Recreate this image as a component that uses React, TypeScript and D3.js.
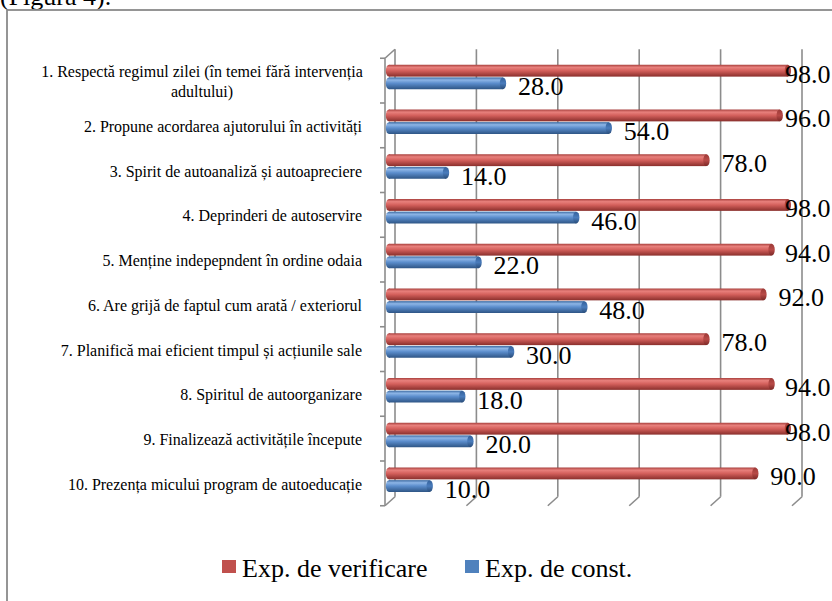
import React from "react";
import * as d3 from "d3";

const categories = [
  "1. Respectă regimul zilei (în temei fără intervenția\nadultului)",
  "2. Propune acordarea ajutorului în activități",
  "3. Spirit de autoanaliză și autoapreciere",
  "4. Deprinderi de autoservire",
  "5. Menține indepepndent în ordine odaia",
  "6. Are grijă de faptul cum arată / exteriorul",
  "7. Planifică mai eficient timpul și acțiunile sale",
  "8. Spiritul de autoorganizare",
  "9. Finalizează activitățile începute",
  "10. Prezența micului program de autoeducație",
];
const verificare = [98, 96, 78, 98, 94, 92, 78, 94, 98, 90];
const constatare = [28, 54, 14, 46, 22, 48, 30, 18, 20, 10];
const seriesNames = ["Exp. de verificare", "Exp. de const."];
const xTicks = [0, 20, 40, 60, 80, 100];

const W = 832;
const H = 601;
const FONT = "Liberation Serif, Tinos, DejaVu Serif, serif";

export default function App() {
  const dx = 10;
  const dy = -9;
  const frontLeft = 385;
  const yBand = d3.scaleBand<string>().domain(categories).range([58.25, 505.75]).padding(0);
  const xBack = d3.scaleLinear().domain([0, 100]).range([frontLeft + dx, 802]);
  const xBar = d3.scaleLinear().domain([0, 100]).range([389, 796]);
  const ySeries = d3.scaleBand<string>().domain(seriesNames).range([6.5, 31]).paddingInner(0.06);
  const top = yBand.range()[0];
  const bottom = yBand.range()[1];
  const colors = ["#c0504d", "#4f81bd"];
  const data = [verificare, constatare];
  const txt = { fontFamily: FONT, fill: "#000" } as React.CSSProperties;

  return (
    <svg width={W} height={H} style={{ position: "absolute", left: 0, top: 0, background: "#fff" }}>
      <defs>
        <linearGradient id="g0" x1="0" y1="0" x2="0" y2="1">
          <stop offset="0%" stopColor="#a8403d" />
          <stop offset="22%" stopColor="#e8807c" />
          <stop offset="50%" stopColor="#d4605c" />
          <stop offset="100%" stopColor="#8a2f2c" />
        </linearGradient>
        <linearGradient id="g1" x1="0" y1="0" x2="0" y2="1">
          <stop offset="0%" stopColor="#3a68a0" />
          <stop offset="22%" stopColor="#8db5e6" />
          <stop offset="50%" stopColor="#5b8dcc" />
          <stop offset="100%" stopColor="#2e5585" />
        </linearGradient>
        <linearGradient id="c0" x1="0" y1="0" x2="0" y2="1">
          <stop offset="0%" stopColor="#9c3a37" />
          <stop offset="50%" stopColor="#b84a47" />
          <stop offset="100%" stopColor="#7a2826" />
        </linearGradient>
        <linearGradient id="c1" x1="0" y1="0" x2="0" y2="1">
          <stop offset="0%" stopColor="#33609a" />
          <stop offset="50%" stopColor="#4a7cbc" />
          <stop offset="100%" stopColor="#294c78" />
        </linearGradient>
      </defs>

      {/* caption fragment above the frame */}
      <text x={0} y={5} style={{ ...txt, fontSize: 26 }}>(Figura 4).</text>

      {/* chart frame */}
      <rect x={7} y={10} width={900} height={700} fill="#fff" stroke="#8a8a8a" strokeWidth={1.8} />

      {/* back wall gridlines and floor diagonals */}
      {xTicks.map((t) => (
        <g key={t} stroke="#8c8c8c" strokeWidth={1.6} fill="none">
          <line x1={xBack(t)} x2={xBack(t)} y1={top + dy} y2={bottom + dy} />
          <line x1={xBack(t)} y1={bottom + dy} x2={xBack(t) - dx} y2={bottom} />
        </g>
      ))}

      {/* left wall front edge, top diagonal and ticks */}
      <g stroke="#8c8c8c" strokeWidth={1.6} fill="none">
        <line x1={frontLeft} x2={frontLeft} y1={top} y2={bottom} />
        <line x1={frontLeft} y1={top} x2={frontLeft + dx} y2={top + dy} />
        {[...categories.map((c) => yBand(c)!), bottom].map((y, i) => (
          <line key={i} x1={frontLeft - 5} x2={frontLeft} y1={y} y2={y} />
        ))}
      </g>

      {/* category labels */}
      {categories.map((c) => {
        const lines = c.split("\n");
        const cy = yBand(c)! + yBand.bandwidth() / 2 + 1;
        const lh = 20;
        if (lines.length === 1) {
          return (
            <text key={c} x={362} y={cy} dy="0.35em" textAnchor="end" style={{ ...txt, fontSize: 16 }}>
              {c}
            </text>
          );
        }
        return (
          <text key={c} x={202} textAnchor="middle" style={{ ...txt, fontSize: 16 }}>
            {lines.map((l, i) => (
              <tspan key={i} x={202} y={cy - ((lines.length - 1) * lh) / 2 + i * lh} dy="0.35em">
                {l}
              </tspan>
            ))}
          </text>
        );
      })}

      {/* bars (cylinders) */}
      {categories.map((c, ci) =>
        seriesNames.map((s, si) => {
          const v = data[si][ci];
          const h = ySeries.bandwidth();
          const yc = yBand(c)! + ySeries(s)! + h / 2;
          const x0 = xBar(0);
          const x1 = xBar(v);
          const rx = 3.2;
          return (
            <g key={c + s}>
              <ellipse cx={x0} cy={yc} rx={rx} ry={h / 2} fill={`url(#g${si})`} />
              <rect x={x0} y={yc - h / 2} width={x1 - x0} height={h} fill={`url(#g${si})`} />
              <ellipse cx={x1} cy={yc} rx={rx} ry={h / 2} fill={`url(#c${si})`} />
            </g>
          );
        })
      )}

      {/* data labels */}
      {categories.map((c, ci) =>
        seriesNames.map((s, si) => {
          const v = data[si][ci];
          const h = ySeries.bandwidth();
          const yc = yBand(c)! + ySeries(s)! + h / 2;
          const x = Math.min(xBar(v) + 15, 785);
          return (
            <text key={c + s + "l"} x={x} y={yc + 12} style={{ ...txt, fontSize: 26 }}>
              {v.toFixed(1)}
            </text>
          );
        })
      )}

      {/* legend */}
      {seriesNames.map((s, i) => {
        const lx = [222, 465][i];
        return (
          <g key={s}>
            <rect x={lx} y={560} width={14} height={13} fill={colors[i]} />
            <text x={lx + 20} y={577} style={{ ...txt, fontSize: 26 }}>
              {s}
            </text>
          </g>
        );
      })}
    </svg>
  );
}
